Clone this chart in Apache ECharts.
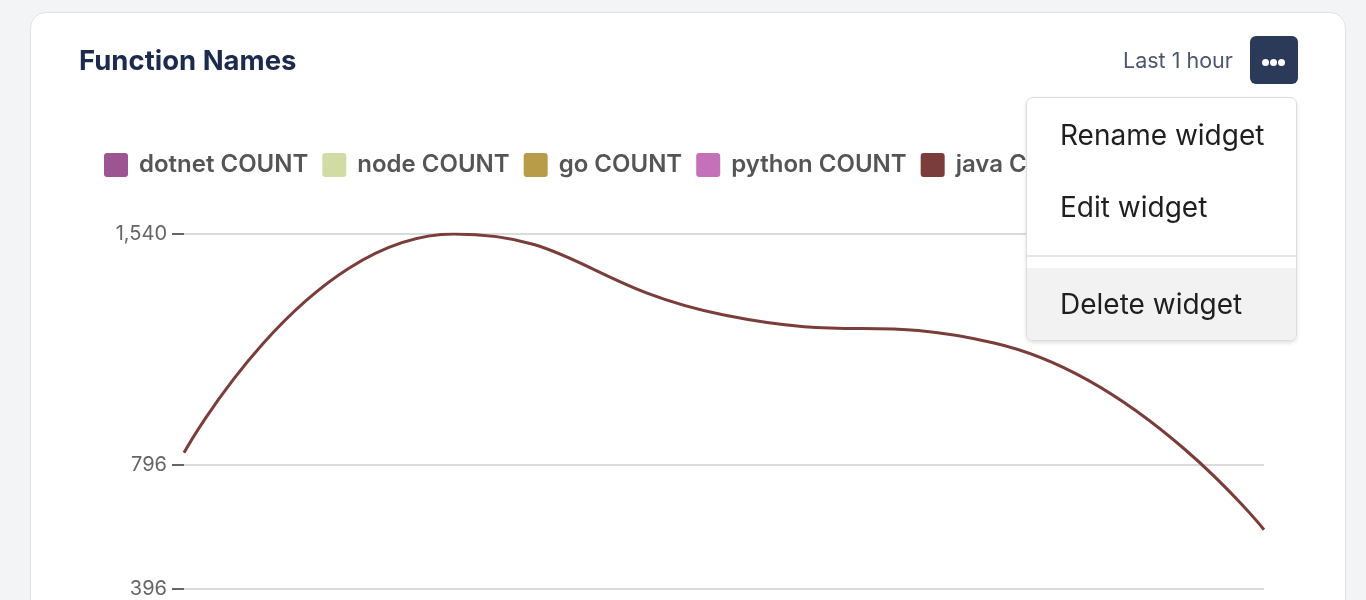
<!DOCTYPE html>
<html>
<head>
<meta charset="utf-8">
<script src="https://cdn.jsdelivr.net/npm/echarts@6/dist/echarts.min.js"></script>
<style>
  html, body { margin: 0; padding: 0; width: 1366px; height: 600px; overflow: hidden; background: #f3f4f6; font-family: Inter, "Noto Sans", sans-serif; }
  #card { position: absolute; left: 30px; top: 12px; width: 1314px; height: 700px; background: #fff; border: 1px solid #e1e3e6; border-radius: 16px; }
  #chart { position: absolute; left: 0; top: 0; width: 1366px; height: 600px; }
  #title { position: absolute; left: 79px; top: 43px; font-size: 27.5px; font-weight: 700; color: #1c2b4d; }
  #range { position: absolute; left: 1123px; top: 47px; font-size: 21.5px; color: #4b5670; }
  #btn { position: absolute; left: 1250px; top: 36px; width: 48px; height: 48px; background: #2c3a59; border-radius: 6px; }
  #btn span { position: absolute; top: 23px; width: 7px; height: 7px; border-radius: 50%; background: #fff; }
  #menu { position: absolute; left: 1026px; top: 97px; width: 269px; height: 242px; background: #fff; border: 1px solid #dcdcdc; border-radius: 7px; box-shadow: 0 2px 4px rgba(0,0,0,0.12); overflow: hidden; }
  .item { position: absolute; left: 0; width: 100%; height: 72px; line-height: 72px; padding-left: 33px; box-sizing: border-box; font-size: 28px; color: #1f1f1f; }
  #sep { position: absolute; left: 0; top: 157px; width: 100%; height: 2px; background: #e6e6e6; }
</style>
</head>
<body>
<div id="card"></div>
<div id="chart"></div>
<div id="title">Function Names</div>
<div id="range">Last 1 hour</div>
<div id="btn"><span style="left:12px"></span><span style="left:20px"></span><span style="left:28px"></span></div>
<div id="menu">
  <div class="item" style="top:1px">Rename widget</div>
  <div class="item" style="top:73px">Edit widget</div>
  <div id="sep"></div>
  <div class="item" style="top:170px;background:#f2f2f2">Delete widget</div>
</div>
<script>
// Data
const categories = ['t1', 't2', 't3', 't4', 't5'];
const seriesNames = ['dotnet COUNT', 'node COUNT', 'go COUNT', 'python COUNT', 'java COUNT'];
const seriesColors = ['#9c5592', '#d1dca5', '#b99c48', '#c471b9', '#7b3d3a'];
const dotnetValues = [];
const nodeValues = [];
const goValues = [];
const pythonValues = [];
const javaValues = [835, 1540, 1279, 1189, 587];
const yTickValues = [396, 796, 1540];

const valuesByName = {
  'dotnet COUNT': dotnetValues,
  'node COUNT': nodeValues,
  'go COUNT': goValues,
  'python COUNT': pythonValues,
  'java COUNT': javaValues
};

const chart = echarts.init(document.getElementById('chart'), null, { renderer: 'canvas' });
chart.setOption({
  animation: false,
  backgroundColor: 'transparent',
  color: seriesColors,
  textStyle: { fontFamily: 'Inter' },
  legend: {
    left: 104, top: 153, padding: 0,
    itemWidth: 24, itemHeight: 24, itemGap: 14,
    icon: 'path://M3,0H21Q24,0,24,3V21Q24,24,21,24H3Q0,24,0,21V3Q0,0,3,0Z',
    textStyle: { fontSize: 24, fontWeight: 600, color: '#555555', fontFamily: 'Inter', padding: [0, 0, 0, 6] },
    data: seriesNames
  },
  grid: { left: 184, right: 102, top: 234, height: 355, containLabel: false },
  xAxis: {
    type: 'category', data: categories, boundaryGap: false,
    axisLine: { show: false }, axisTick: { show: false }, axisLabel: { show: false }
  },
  yAxis: {
    type: 'value', min: yTickValues[0], max: yTickValues[yTickValues.length - 1],
    axisLine: { show: false },
    axisTick: { show: true, length: 12, lineStyle: { color: '#666666', width: 2 }, customValues: yTickValues },
    axisLabel: { customValues: yTickValues, margin: 17, fontSize: 20, color: '#666666', fontFamily: 'Inter',
      formatter: v => v.toLocaleString('en-US') },
    splitLine: { show: true, lineStyle: { color: '#cfcfcf', width: 1.5 } }
  },
  series: seriesNames.map((name, i) => ({
    name, type: 'line', data: valuesByName[name], smooth: true, showSymbol: false,
    lineStyle: { width: 3, color: seriesColors[i] }, itemStyle: { color: seriesColors[i] }
  }))
});
</script>
</body>
</html>
